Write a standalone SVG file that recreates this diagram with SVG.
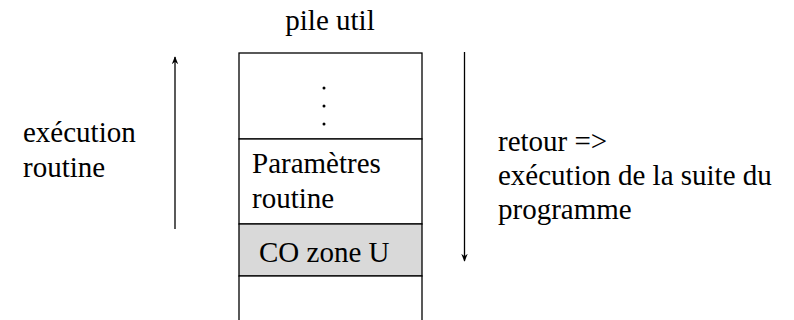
<svg xmlns="http://www.w3.org/2000/svg" width="794" height="320" viewBox="0 0 794 320">
  <style>
    text { font-family: "Liberation Serif", "Times New Roman", serif; font-size: 29px; fill: #000; }
    .cell { fill: #fff; stroke: #000; stroke-width: 1.3; }
    .grey { fill: #d9d9d9; }
    .conn { stroke: #000; stroke-width: 1.3; fill: none; }
  </style>
  <defs>
    <marker id="arrow" viewBox="0 0 10 10" refX="9" refY="5" markerWidth="8" markerHeight="8" markerUnits="userSpaceOnUse" orient="auto">
      <path d="M0,1 L10,5 L0,9 L3,5 Z" fill="#000"/>
    </marker>
  </defs>

  <text x="330" y="30" text-anchor="middle">pile util</text>

  <g id="stack">
    <g id="cell-dots">
      <rect class="cell" x="239" y="53" width="183" height="86"/>
      <circle cx="324" cy="88" r="1.5"/>
      <circle cx="324" cy="106" r="1.5"/>
      <circle cx="324" cy="124" r="1.5"/>
    </g>
    <g id="cell-params">
      <rect class="cell" x="239" y="139" width="183" height="85"/>
      <text x="252" y="173">Paramètres</text>
      <text x="252" y="208">routine</text>
    </g>
    <g id="cell-co">
      <rect class="cell grey" x="239" y="224" width="183" height="52"/>
      <text x="259" y="262">CO zone U</text>
    </g>
    <g id="cell-bottom">
      <rect class="cell" x="239" y="276" width="183" height="60"/>
    </g>
  </g>

  <g id="labels">
    <text x="23" y="142">exécution</text>
    <text x="23" y="177">routine</text>
    <text x="498" y="151">retour =&gt;</text>
    <text x="498" y="185">exécution de la suite du</text>
    <text x="498" y="219">programme</text>
  </g>

  <g id="connectors">
    <line class="conn" x1="175" y1="229" x2="175" y2="57" marker-end="url(#arrow)"/>
    <line class="conn" x1="464.5" y1="52" x2="464.5" y2="261" marker-end="url(#arrow)"/>
  </g>
</svg>
